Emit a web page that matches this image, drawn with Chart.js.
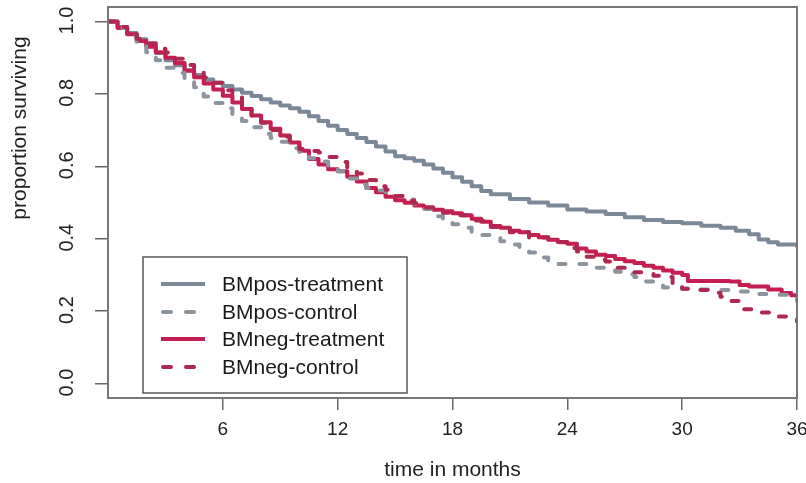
<!DOCTYPE html>
<html>
<head>
<meta charset="utf-8">
<script src="https://cdn.jsdelivr.net/npm/chart.js@4.4.0/dist/chart.umd.min.js"></script>
<style>
  html, body { margin: 0; padding: 0; background: #fff; }
  #wrap { width: 806px; height: 483px; }
</style>
</head>
<body>
<div id="wrap"><canvas id="km-chart" width="806" height="483"></canvas></div>
<script>
// Kaplan-Meier curves: time in months / proportion surviving

const posTreatTime = [0, 0.5, 1, 1.5, 2, 2.5, 3, 3.5, 4, 4.5, 5, 5.5, 6, 6.5, 7, 7.5, 8, 8.5, 9, 9.5, 10, 10.5, 11, 11.5, 12, 12.5, 13, 13.5, 14, 14.5, 15, 15.5, 16, 16.5, 17, 17.5, 18, 18.5, 19, 19.5, 20, 21, 22, 23, 24, 25, 26, 27, 28, 29, 30, 31, 32, 32.8, 33.5, 34, 34.5, 35, 36];
const posTreatSurv = [1.000, 0.985, 0.968, 0.951, 0.934, 0.913, 0.893, 0.879, 0.865, 0.852, 0.840, 0.831, 0.822, 0.812, 0.803, 0.794, 0.785, 0.776, 0.768, 0.760, 0.751, 0.738, 0.725, 0.712, 0.700, 0.689, 0.678, 0.667, 0.655, 0.641, 0.628, 0.622, 0.615, 0.605, 0.594, 0.582, 0.570, 0.557, 0.545, 0.532, 0.523, 0.510, 0.500, 0.492, 0.481, 0.475, 0.468, 0.459, 0.452, 0.446, 0.443, 0.436, 0.430, 0.422, 0.412, 0.398, 0.390, 0.384, 0.376];

const posCtrlTime = [0, 0.5, 1, 1.5, 2, 2.5, 3, 3.5, 4, 4.5, 5, 5.5, 6, 6.5, 7, 7.5, 8, 8.5, 9, 9.5, 10, 10.5, 11, 11.5, 12, 12.5, 13, 13.5, 14, 14.5, 15, 15.5, 16, 16.5, 17, 17.5, 18, 18.5, 19, 19.5, 20, 20.5, 21, 21.5, 22, 22.5, 23, 23.5, 25, 25.5, 26, 26.5, 27, 27.5, 28, 28.5, 29, 30, 31, 32, 32.7, 33.5, 35, 35.5, 36];
const posCtrlSurv = [1.000, 0.982, 0.960, 0.938, 0.915, 0.893, 0.872, 0.858, 0.842, 0.818, 0.793, 0.775, 0.760, 0.743, 0.725, 0.708, 0.690, 0.678, 0.668, 0.650, 0.630, 0.622, 0.613, 0.600, 0.586, 0.566, 0.550, 0.540, 0.533, 0.526, 0.518, 0.508, 0.496, 0.482, 0.462, 0.447, 0.440, 0.430, 0.418, 0.410, 0.403, 0.393, 0.384, 0.374, 0.362, 0.348, 0.338, 0.330, 0.326, 0.320, 0.314, 0.309, 0.302, 0.294, 0.282, 0.272, 0.265, 0.262, 0.260, 0.258, 0.254, 0.247, 0.245, 0.235, 0.227];

const negTreatTime = [0, 0.5, 1, 1.5, 2, 2.5, 3, 3.5, 4, 4.5, 5, 5.5, 6, 6.5, 7, 7.5, 8, 8.5, 9, 9.5, 10, 10.5, 11, 11.5, 12, 12.5, 13, 13.5, 14, 14.5, 15, 15.5, 16, 16.5, 17, 17.5, 18, 18.5, 19, 19.5, 20, 20.5, 21, 21.5, 22, 22.5, 23, 23.5, 24, 24.5, 25, 25.5, 26, 26.5, 27, 27.5, 28, 28.5, 29, 29.5, 30, 30.3, 32.5, 33, 33.5, 34.5, 35.2, 35.7, 36];
const negTreatSurv = [1.000, 0.982, 0.965, 0.946, 0.930, 0.915, 0.900, 0.885, 0.864, 0.846, 0.829, 0.812, 0.795, 0.776, 0.758, 0.740, 0.722, 0.704, 0.685, 0.666, 0.643, 0.620, 0.605, 0.592, 0.586, 0.571, 0.558, 0.540, 0.528, 0.516, 0.506, 0.499, 0.492, 0.486, 0.480, 0.476, 0.470, 0.465, 0.455, 0.447, 0.435, 0.430, 0.422, 0.418, 0.410, 0.404, 0.397, 0.391, 0.386, 0.373, 0.365, 0.356, 0.352, 0.344, 0.338, 0.333, 0.325, 0.320, 0.312, 0.306, 0.300, 0.283, 0.282, 0.272, 0.268, 0.260, 0.250, 0.244, 0.240];

const negCtrlTime = [0, 0.5, 1, 1.5, 2, 2.5, 3, 3.5, 4, 4.5, 5, 5.5, 6, 6.5, 7, 7.5, 8, 8.5, 9, 9.5, 10, 10.5, 11, 11.5, 12, 12.5, 13, 13.5, 14, 14.5, 15, 15.5, 16, 16.5, 17, 17.5, 18, 19, 20, 21, 22, 23, 24, 24.5, 25, 25.5, 26, 26.5, 27, 27.5, 28.5, 29, 29.5, 30, 30.5, 31.5, 32, 32.5, 33, 33.8, 34.8, 35.6, 36];
const negCtrlSurv = [1.000, 0.985, 0.968, 0.952, 0.940, 0.925, 0.914, 0.897, 0.880, 0.862, 0.845, 0.831, 0.810, 0.790, 0.765, 0.740, 0.720, 0.700, 0.682, 0.667, 0.648, 0.642, 0.638, 0.626, 0.612, 0.595, 0.580, 0.562, 0.545, 0.535, 0.518, 0.505, 0.498, 0.486, 0.478, 0.472, 0.465, 0.450, 0.432, 0.418, 0.403, 0.390, 0.374, 0.365, 0.350, 0.342, 0.337, 0.320, 0.309, 0.307, 0.298, 0.294, 0.275, 0.262, 0.258, 0.251, 0.240, 0.228, 0.205, 0.196, 0.185, 0.178, 0.171];

const seriesNames = ['BMpos-treatment', 'BMpos-control', 'BMneg-treatment', 'BMneg-control'];
const xTicks = [6, 12, 18, 24, 30, 36];
const yTicks = [0, 0.2, 0.4, 0.6, 0.8, 1.0];
const yTickLabels = ['0.0', '0.2', '0.4', '0.6', '0.8', '1.0'];
const xTitle = 'time in months';
const yTitle = 'proportion surviving';

const FONT = '"Liberation Sans", Arial, Helvetica, sans-serif';
const greySolid = '#7a8898';
const greyDash = '#8c949e';
const redSolid = '#c41e52';
const redDash = '#b0274f';

const toPoints = (ts, ss) => ts.map((t, i) => ({ x: t, y: ss[i] }));

const makeSet = (label, ts, ss, color, dashed, order) => ({
  label,
  data: toPoints(ts, ss),
  borderColor: color,
  borderWidth: 4,
  borderDash: dashed ? [7, 14] : [],
  borderCapStyle: dashed ? 'round' : 'butt',
  borderJoinStyle: 'round',
  stepped: true,
  pointRadius: 0,
  fill: false,
  order
});

// draws the R-style frame, rotated y labels, y title and the boxed legend
const rDecorations = {
  id: 'rDecorations',
  afterDatasetsDraw(chart) {
    const { ctx, chartArea: a, scales } = chart;
    ctx.save();

    ctx.strokeStyle = '#7a7676';
    ctx.lineWidth = 2;
    ctx.strokeRect(a.left, a.top, a.right - a.left, a.bottom - a.top);

    ctx.fillStyle = '#222';
    ctx.font = '20px ' + FONT;
    ctx.textAlign = 'center';
    ctx.textBaseline = 'middle';
    yTicks.forEach((v, i) => {
      const y = scales.y.getPixelForValue(v);
      ctx.save();
      ctx.translate(a.left - 41, y - 1);
      ctx.rotate(-Math.PI / 2);
      ctx.fillText(yTickLabels[i], 0, 0);
      ctx.restore();
    });

    ctx.font = '21px ' + FONT;
    ctx.save();
    ctx.translate(20, 128);
    ctx.rotate(-Math.PI / 2);
    ctx.fillText(yTitle, 0, 0);
    ctx.restore();

    // legend box
    const lx = a.left + 35, ly = 257, lw = 264, lh = 136;
    ctx.fillStyle = '#fff';
    ctx.fillRect(lx, ly, lw, lh);
    ctx.strokeStyle = '#5a5656';
    ctx.lineWidth = 1.5;
    ctx.strokeRect(lx, ly, lw, lh);

    const rows = [284, 312, 339, 367];
    seriesNames.forEach((name, r) => {
      const ds = chart.data.datasets[r];
      const y = rows[r];
      const dashed = ds.borderDash.length > 0;
      ctx.save();
      ctx.strokeStyle = ds.borderColor;
      ctx.lineWidth = 4;
      ctx.lineCap = dashed ? 'round' : 'butt';
      ctx.setLineDash(dashed ? [8, 15] : []);
      ctx.beginPath();
      ctx.moveTo(dashed ? 163 : 161, y);
      ctx.lineTo(205, y);
      ctx.stroke();
      ctx.restore();

      ctx.fillStyle = '#1a1a1a';
      ctx.font = '21px ' + FONT;
      ctx.textAlign = 'left';
      ctx.textBaseline = 'middle';
      ctx.fillText(name, 222, y + 1);
    });

    ctx.restore();
  }
};

new Chart(document.getElementById('km-chart'), {
  type: 'line',
  data: {
    datasets: [
      makeSet(seriesNames[0], posTreatTime, posTreatSurv, greySolid, false, 3),
      makeSet(seriesNames[1], posCtrlTime, posCtrlSurv, greyDash, true, 1),
      makeSet(seriesNames[2], negTreatTime, negTreatSurv, redSolid, false, 2),
      makeSet(seriesNames[3], negCtrlTime, negCtrlSurv, redDash, true, 0)
    ]
  },
  options: {
    responsive: false,
    devicePixelRatio: 1,
    animation: false,
    layout: { padding: { top: 7, right: 9, left: 0, bottom: 0 } },
    plugins: {
      legend: { display: false },
      tooltip: { enabled: false }
    },
    scales: {
      x: {
        type: 'linear',
        min: 0,
        max: 36,
        afterBuildTicks: s => { s.ticks = xTicks.map(v => ({ value: v })); },
        afterFit: s => { s.height = 85; s.paddingLeft = 0; s.paddingRight = 0; },
        grid: { drawOnChartArea: false, drawTicks: true, tickLength: 12, color: '#6a6666', lineWidth: 1.5 },
        border: { display: false },
        ticks: {
          color: '#222',
          font: { family: FONT, size: 19 },
          padding: 8,
          maxRotation: 0,
          autoSkip: false
        },
        title: {
          display: true,
          text: xTitle,
          color: '#222',
          font: { family: FONT, size: 21 },
          padding: { top: 0, bottom: 0 }
        }
      },
      y: {
        type: 'linear',
        min: -0.04,
        max: 1.04,
        afterBuildTicks: s => { s.ticks = yTicks.map(v => ({ value: v })); },
        afterFit: s => { s.width = 108; s.paddingTop = 0; s.paddingBottom = 0; },
        grid: { drawOnChartArea: false, drawTicks: true, tickLength: 13, color: '#6a6666', lineWidth: 1.5 },
        border: { display: false },
        ticks: { display: false }
      }
    }
  },
  plugins: [rDecorations]
});
</script>
</body>
</html>
